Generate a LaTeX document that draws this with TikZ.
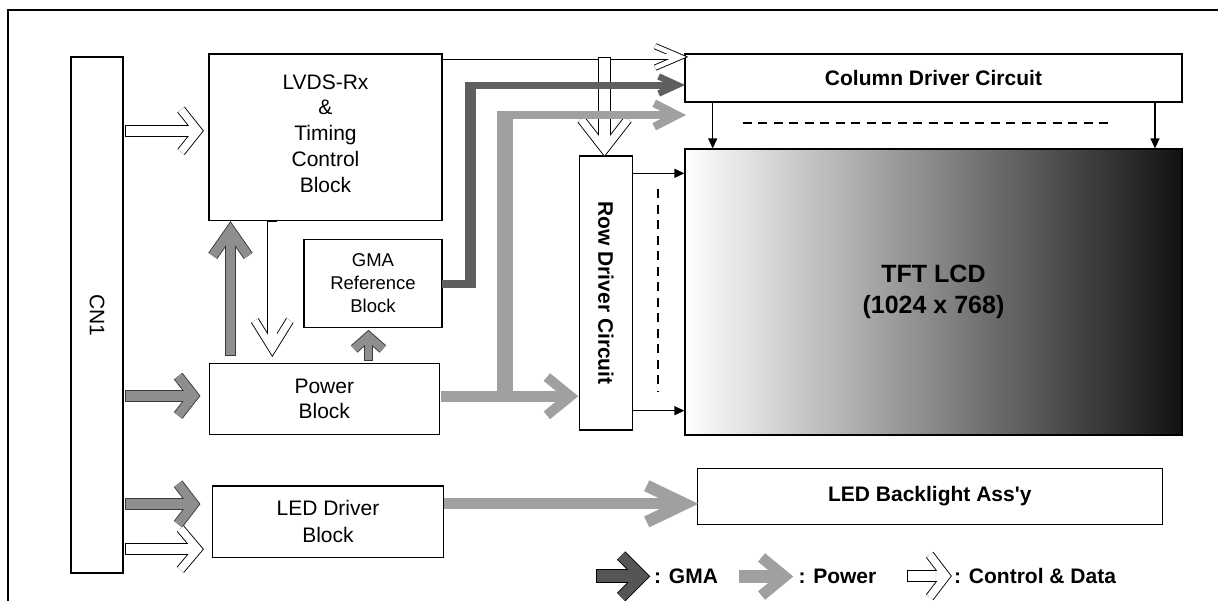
\documentclass[tikz,border=0pt]{standalone}
\usepackage{fontspec}
\setmainfont{Liberation Sans}
\newfontfamily\plainsans{Liberation Sans}
\usetikzlibrary{arrows.meta}
\definecolor{gmadark}{HTML}{5F5F5F}
\definecolor{gmaleg}{HTML}{555555}
\definecolor{pgray}{HTML}{8E8E8E}
\definecolor{plight}{HTML}{A0A0A0}
\definecolor{olgray}{HTML}{3A3A3A}
% chevron block arrow: #1 tip, #2 angle, #3 length tip->tail, #4 shaft width,
% #5 head length, #6 head half height, #7 arm thickness, #8 fill colour, #9 outline style
\newcommand\chev[9]{%
  \pgfmathsetmacro\cLen{sqrt((#5)*(#5)+(#6)*(#6))}%
  \pgfmathsetmacro\cD{(#7)/2*\cLen/(#6)}%
  \pgfmathsetmacro\cEx{-(#5)-(#7)/2*(#6)/\cLen}%
  \pgfmathsetmacro\cEy{(#6)-(#7)/2*(#5)/\cLen}%
  \pgfmathsetmacro\cSx{-((#4)/2*(#5)/(#6)+2*\cD)/2}%
  \begin{scope}[shift={#1},rotate=#2]
    \draw[#9, line width=#4+1.8, line cap=butt] (-#3,0) -- (\cSx,0);
    \draw[#9, line width=#7+1.8, line join=miter, line cap=butt] (\cEx,\cEy) -- (-\cD,0) -- (\cEx,-\cEy);
    \draw[#8, line width=#4, line cap=butt] (-#3+0.9,0) -- (\cSx,0);
    \draw[#8, line width=#7, line join=miter, line cap=butt] (\cEx,\cEy) -- (-\cD,0) -- (\cEx,-\cEy);
  \end{scope}}
\begin{document}
\begin{tikzpicture}[x=1pt,y=-1pt,
  blk/.style={draw=black, line width=1.2pt, fill=white, inner sep=0pt, align=center},
  fr/.style={font=\fontsize{21}{25.8}\selectfont},
  fb/.style={font=\fontsize{21}{25.8}\selectfont\bfseries},
  wire/.style={line width=1.2pt, -{Triangle[length=10pt,width=9pt]}},
  dsh/.style={line width=1.8pt, dash pattern=on 9pt off 6.5pt}]
\useasboundingbox (0,0) rectangle (1218,600);
% frame
\draw[line width=1.8pt] (8,600.5) -- (8,10) -- (1218.5,10);
% boxes
\node[blk, fr, rotate=-90, minimum width=516, minimum height=52] (cn1) at (97,315) {CN1};
\node[blk, minimum width=233, minimum height=166.5] (lvds) at (325.5,137.25) {};
\node[fr, align=center, inner sep=0pt] (lvdstext) at (325.5,133.4) {LVDS-Rx\\\&\\Timing\\Control\\Block};
\node[blk, font=\fontsize{18.5}{23.3}\selectfont, minimum width=138, minimum height=88] (gma) at (373,283.3) {GMA\\Reference\\Block};
\node[blk, fr, minimum width=230, minimum height=71] (power) at (324.3,398.8) {Power\\Block};
\node[blk, font=\fontsize{21}{26.5}\selectfont, minimum width=230.6, minimum height=71.3] (ledd) at (328,521.65) {LED Driver\\Block};
\node[blk, fb, minimum width=497, minimum height=48] (col) at (933.5,78) {Column Driver Circuit};
\node[blk, fb, rotate=-90, minimum width=274, minimum height=53] (row) at (605.8,293) {Row Driver Circuit};
\node[draw=black, line width=1.2pt, inner sep=0pt, align=center,
      left color=white, middle color=black!27, right color=black!93,
      font=\fontsize{25}{31.5}\selectfont\bfseries,
      minimum width=497, minimum height=286] (tft) at (933.5,292) {TFT LCD\\(1024 x 768)};
\node[blk, fb, minimum width=465, minimum height=56] (bl) at (929.8,496.3) {LED Backlight Ass{\plainsans'}y};
% thin connectors
\coordinate (cA) at (712.7,0);
\coordinate (cB) at (1155,0);
\coordinate (rA) at (0,173.3);
\coordinate (rB) at (0,410.7);
\draw[wire] (cA |- col.south) -- (cA |- tft.north);
\draw[wire] (cB |- col.south) -- (cB |- tft.north);
\draw[wire] (row.north |- rA) -- (tft.west |- rA);
\draw[wire] (row.north |- rB) -- (tft.west |- rB);
\draw[dsh] (742.7,122.7) -- (1113.3,122.7);
\draw[dsh] (658.3,189.3) -- (658.3,391.7);
% control & data arrows from CN1
\chev{(202.7,130.8)}{0}{77.7}{10}{18.7}{23.5}{7.5}{white}{black}
\chev{(199.3,395.8)}{0}{74.3}{10}{17.6}{22.5}{9}{pgray}{olgray}
\chev{(199.3,504)}{0}{74.3}{10}{17.6}{23}{9}{pgray}{olgray}
\chev{(202.7,549.2)}{0}{77.7}{10}{19.4}{23}{7.5}{white}{black}
% between blocks
\chev{(230.5,222.7)}{90}{133}{9.5}{30.6}{21.4}{9}{pgray}{olgray}
\chev{(272.3,355.3)}{-90}{134}{8.5}{33}{20.5}{7}{white}{black}
\chev{(368.5,331)}{90}{29.5}{7.5}{15}{17}{8}{pgray}{olgray}
\chev{(686,56.9)}{0}{244.3}{5}{30}{12.8}{4.5}{white}{black}
\chev{(604.5,155.5)}{-90}{98.8}{11}{33.8}{26.3}{7.5}{white}{black}
% GMA path
\fill[gmadark] (465,81.5) rectangle (476,288.3);
\fill[gmadark] (442,280) rectangle (476,288.3);
\chev{(685,85)}{0}{220}{7}{25}{11.5}{6.5}{gmadark}{draw=none}
% power paths
\fill[plight] (496.7,111) rectangle (512.7,401.7);
\chev{(686,115)}{0}{189.3}{8}{30}{15.3}{8}{plight}{draw=none}
\chev{(578.3,396.2)}{0}{138.3}{11}{28.3}{23}{10}{plight}{draw=none}
\chev{(698.3,503.8)}{0}{255}{11}{49}{23.5}{12}{plight}{draw=none}
% legend
\chev{(649,576.3)}{0}{53}{12}{24.3}{24.3}{10}{gmaleg}{black}
\chev{(793.3,576.5)}{0}{55}{12.7}{28.3}{23.3}{11}{plight}{draw=none}
\chev{(950.7,576)}{0}{44}{10}{18}{23.5}{7.5}{white}{black}
\node[fb, anchor=base west, inner sep=0pt] (lgma) at (654,583.3) {: GMA};
\node[fb, anchor=base west, inner sep=0pt] (lpow) at (798.3,583.3) {: Power};
\node[fb, anchor=base west, inner sep=0pt] (lctl) at (954,583.3) {: Control \& Data};
\end{tikzpicture}
\end{document}
